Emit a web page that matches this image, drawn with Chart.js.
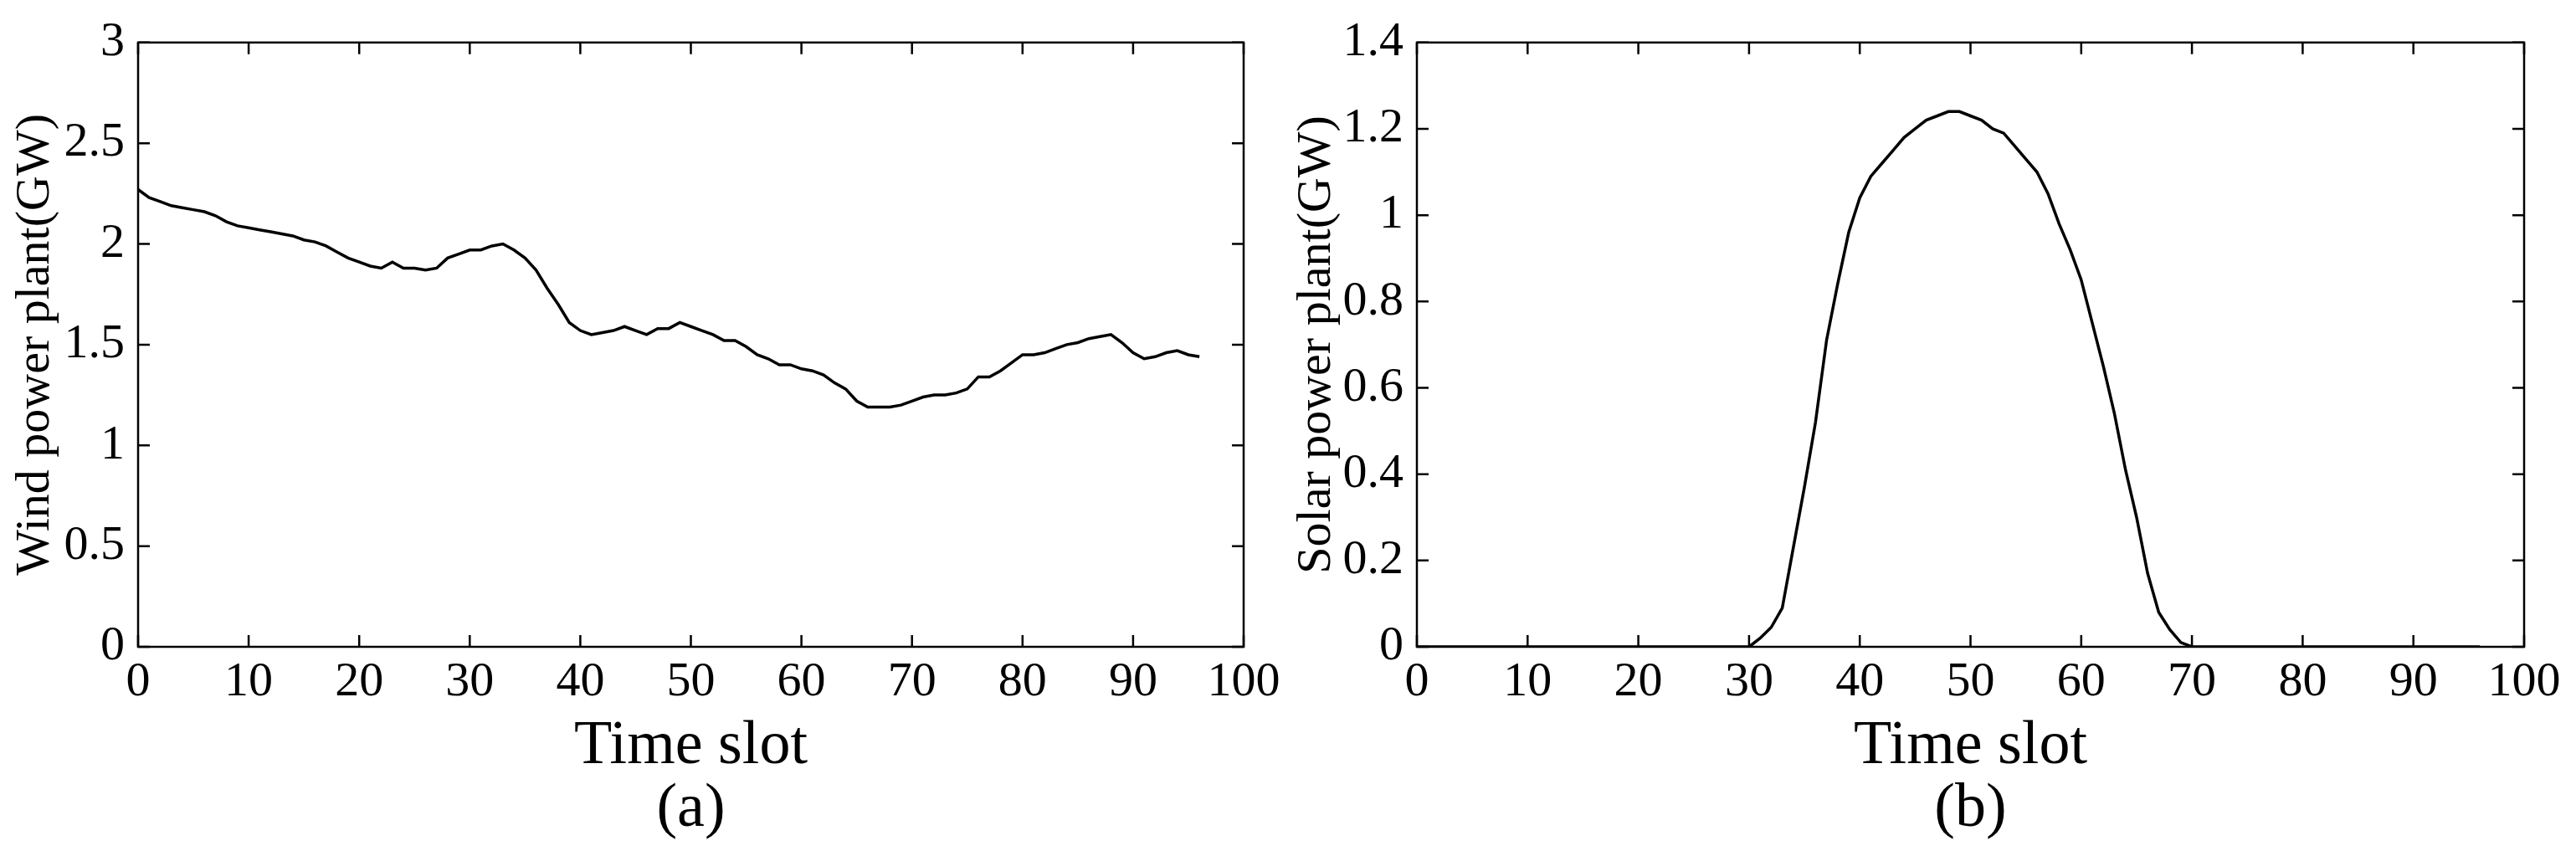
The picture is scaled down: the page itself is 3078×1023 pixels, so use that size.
<!DOCTYPE html>
<html><head><meta charset="utf-8">
<script src="https://cdn.jsdelivr.net/npm/chart.js@4/dist/chart.umd.min.js"></script>
<style>html,body{margin:0;padding:0;background:#fff;overflow:hidden}
.c{position:absolute;top:0;width:1539px;height:1023px}</style>
</head><body>
<div class="c" style="left:0"><canvas id="a"></canvas></div>
<div class="c" style="left:1539px"><canvas id="b"></canvas></div>
<script>
const slots = Array.from({length:97},(_,i)=>i);
const wind = [2.27,2.23,2.21,2.19,2.18,2.17,2.16,2.14,2.11,2.09,2.08,2.07,2.06,2.05,2.04,2.02,2.01,1.99,1.96,1.93,1.91,1.89,1.88,1.91,1.88,1.88,1.87,1.88,1.93,1.95,1.97,1.97,1.99,2.00,1.97,1.93,1.87,1.78,1.70,1.61,1.57,1.55,1.56,1.57,1.59,1.57,1.55,1.58,1.58,1.61,1.59,1.57,1.55,1.52,1.52,1.49,1.45,1.43,1.40,1.40,1.38,1.37,1.35,1.31,1.28,1.22,1.19,1.19,1.19,1.20,1.22,1.24,1.25,1.25,1.26,1.28,1.34,1.34,1.37,1.41,1.45,1.45,1.46,1.48,1.50,1.51,1.53,1.54,1.55,1.51,1.46,1.43,1.44,1.46,1.47,1.45,1.44];
const solarDay = [0,0.02,0.045,0.09,0.23,0.37,0.52,0.71,0.84,0.96,1.04,1.09,1.12,1.15,1.18,1.20,1.22,1.23,1.24,1.24,1.23,1.22,1.20,1.19,1.16,1.13,1.10,1.05,0.98,0.92,0.85,0.75,0.65,0.54,0.41,0.30,0.17,0.08,0.04,0.01,0];
const solar = [...Array(30).fill(0), ...solarDay, ...Array(26).fill(0)];
const xTicks = [0,10,20,30,40,50,60,70,80,90,100];
const windTicks = [0,0.5,1,1.5,2,2.5,3];
const solarTicks = [0,0.2,0.4,0.6,0.8,1,1.2,1.4];

const FONT = '"Liberation Serif","Times New Roman",serif';
function make(id, data, yTicks, ymax, ylab, sub, yw, pr, titleX){
  const boxPlugin = {id:'box', afterDraw(c){
    const ctx=c.ctx, a=c.chartArea, xs=c.scales.x, ys=c.scales.y, L=14;
    ctx.save(); ctx.strokeStyle='#000'; ctx.lineWidth=2.5;
    ctx.strokeRect(a.left,a.top,a.right-a.left,a.bottom-a.top);
    ctx.beginPath();
    xTicks.forEach(v=>{const p=xs.getPixelForValue(v);ctx.moveTo(p,a.bottom);ctx.lineTo(p,a.bottom-L);ctx.moveTo(p,a.top);ctx.lineTo(p,a.top+L);});
    yTicks.forEach(v=>{const p=ys.getPixelForValue(v);ctx.moveTo(a.left,p);ctx.lineTo(a.left+L,p);ctx.moveTo(a.right,p);ctx.lineTo(a.right-L,p);});
    ctx.stroke();
    ctx.fillStyle='#000'; ctx.textAlign='center'; ctx.textBaseline='middle';
    ctx.font='74px '+FONT;
    const cx=(a.left+a.right)/2;
    ctx.fillText('Time slot',cx,893);
    ctx.fillText(sub,cx,968);
    ctx.translate(titleX,(a.top+a.bottom)/2); ctx.rotate(-Math.PI/2);
    ctx.font='58px '+FONT; ctx.fillText(ylab,0,0);
    ctx.restore();
  }};
  new Chart(document.getElementById(id),{
    type:'line',
    data:{labels:slots,datasets:[{data:data.map((v,i)=>({x:slots[i],y:v})),borderColor:'#000',borderWidth:3.5,pointRadius:0,tension:0,fill:false}]},
    options:{responsive:true,maintainAspectRatio:false,animation:false,
      layout:{padding:{top:43,right:pr,bottom:0,left:0}},
      plugins:{legend:{display:false},tooltip:{enabled:false}},
      scales:{
        x:{type:'linear',min:0,max:100,afterFit(s){s.height=250;},
          afterBuildTicks(s){s.ticks=xTicks.map(v=>({value:v}));},
          grid:{display:false,drawTicks:false},border:{display:false},
          ticks:{color:'#000',font:{family:FONT,size:58},padding:8,maxRotation:0}},
        y:{min:0,max:ymax,afterFit(s){s.width=yw;},
          afterBuildTicks(s){s.ticks=yTicks.map(v=>({value:v}));},
          grid:{display:false,drawTicks:false},border:{display:false},
          ticks:{color:'#000',font:{family:FONT,size:58},padding:16,callback:v=>String(v)}}
      }},
    plugins:[boxPlugin]
  });
}
make('a',wind,windTicks,3,'Wind power plant(GW)','(a)',165,53,43);
make('b',solar,solarTicks,1.4,'Solar power plant(GW)','(b)',154,62,35);
</script>
</body></html>
